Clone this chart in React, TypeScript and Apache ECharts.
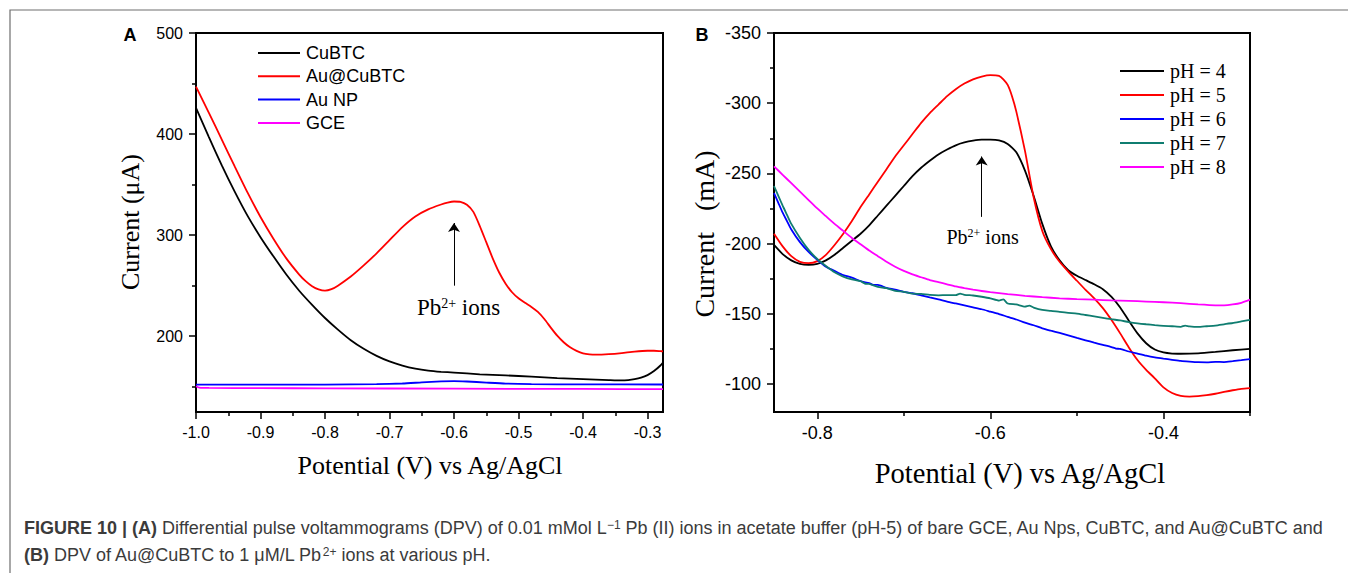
import React, { useEffect, useRef } from "react";
import * as echarts from "echarts";

// ---------- Panel A data (Potential V, Current µA) ----------
const cubtcA: [number, number][] = [
  [-1.0, 426], [-0.98, 397], [-0.96, 369], [-0.94, 343], [-0.92, 319], [-0.9, 298],
  [-0.88, 279], [-0.86, 261], [-0.84, 245], [-0.82, 231], [-0.8, 218], [-0.78, 206.5],
  [-0.76, 196], [-0.74, 187.5], [-0.72, 180.5], [-0.7, 175], [-0.68, 171], [-0.66, 168],
  [-0.64, 166], [-0.62, 164.8], [-0.6, 164], [-0.56, 162.3], [-0.52, 161.2], [-0.48, 160],
  [-0.44, 158.6], [-0.4, 157.6], [-0.36, 156.6], [-0.34, 156.2], [-0.33, 156.6], [-0.32, 157.5],
  [-0.31, 159], [-0.3, 161.5], [-0.29, 165.5], [-0.28, 171], [-0.276, 174],
];
const auCubtcA: [number, number][] = [
  [-1.0, 447], [-0.98, 421], [-0.96, 394.5], [-0.94, 368], [-0.92, 342], [-0.9, 318],
  [-0.88, 296.5], [-0.86, 277], [-0.84, 261], [-0.83, 254.5], [-0.82, 249.5], [-0.81, 246.3],
  [-0.8, 245], [-0.79, 246.5], [-0.78, 250], [-0.76, 259], [-0.74, 270], [-0.72, 282],
  [-0.7, 295], [-0.68, 308], [-0.66, 318.5], [-0.64, 325.5], [-0.62, 330.3], [-0.61, 332.2],
  [-0.6, 333.3], [-0.59, 333], [-0.58, 330], [-0.57, 323], [-0.56, 309], [-0.55, 293],
  [-0.54, 277], [-0.53, 263], [-0.52, 252], [-0.51, 243.5], [-0.5, 237.5], [-0.49, 233],
  [-0.48, 229], [-0.47, 224], [-0.46, 217], [-0.45, 208.5], [-0.44, 200.5], [-0.43, 194],
  [-0.42, 189], [-0.41, 185.5], [-0.4, 183], [-0.39, 182], [-0.38, 181.7], [-0.36, 182.2],
  [-0.34, 183.3], [-0.32, 184.8], [-0.3, 185.6], [-0.29, 185.6], [-0.28, 185.2], [-0.276, 185],
];
const auNpA: [number, number][] = [
  [-1.0, 152], [-0.9, 152], [-0.8, 152.1], [-0.72, 152.5], [-0.68, 153.2], [-0.65, 154.3],
  [-0.62, 155.3], [-0.6, 155.6], [-0.58, 155.2], [-0.55, 154.1], [-0.52, 153.1], [-0.48, 152.6],
  [-0.4, 152.3], [-0.276, 152.2],
];
const gceA: [number, number][] = [
  [-1.0, 150.5], [-0.995, 149.2], [-0.98, 148.8], [-0.9, 148.6], [-0.8, 148.4],
  [-0.6, 148.1], [-0.4, 147.8], [-0.276, 147.6],
];

// ---------- Panel B data (Potential V, Current) ----------
const ph4B: [number, number][] = [
  [-0.85, -199], [-0.84, -192.5], [-0.83, -188], [-0.82, -185.5], [-0.81, -184.8], [-0.8, -185.5],
  [-0.79, -188], [-0.78, -192], [-0.77, -197], [-0.76, -202], [-0.75, -207], [-0.74, -213],
  [-0.73, -220], [-0.72, -227], [-0.71, -234], [-0.7, -241], [-0.69, -248], [-0.68, -254],
  [-0.67, -259], [-0.66, -263.5], [-0.65, -267], [-0.64, -270], [-0.63, -272], [-0.62, -273.3],
  [-0.61, -274], [-0.6, -274], [-0.59, -273.5], [-0.58, -271], [-0.57, -265], [-0.56, -252],
  [-0.55, -234], [-0.54, -214], [-0.53, -198], [-0.52, -188], [-0.51, -181], [-0.5, -177],
  [-0.49, -174], [-0.48, -171], [-0.47, -167.5], [-0.46, -162], [-0.45, -154.5], [-0.44, -145],
  [-0.43, -136], [-0.42, -129], [-0.41, -124.5], [-0.4, -122.4], [-0.39, -121.6], [-0.38, -121.5],
  [-0.36, -121.8], [-0.34, -122.8], [-0.32, -124], [-0.3, -125],
];
const ph5B: [number, number][] = [
  [-0.85, -207], [-0.84, -198], [-0.83, -191], [-0.82, -187], [-0.81, -186], [-0.8, -187.5],
  [-0.79, -192], [-0.78, -199], [-0.77, -207], [-0.76, -216], [-0.75, -226], [-0.74, -235],
  [-0.73, -244], [-0.72, -253], [-0.71, -262], [-0.7, -270], [-0.69, -278], [-0.68, -286],
  [-0.67, -293], [-0.66, -299], [-0.65, -305], [-0.64, -310], [-0.63, -314], [-0.62, -317],
  [-0.61, -319], [-0.6, -320], [-0.59, -319.5], [-0.585, -317], [-0.58, -313], [-0.575, -305],
  [-0.57, -294], [-0.56, -266], [-0.55, -233], [-0.54, -209], [-0.53, -196], [-0.52, -187],
  [-0.51, -180], [-0.5, -173.5], [-0.49, -167], [-0.48, -161], [-0.47, -154], [-0.46, -145.5],
  [-0.45, -136], [-0.44, -126], [-0.43, -117], [-0.42, -110], [-0.41, -104], [-0.4, -97.5],
  [-0.39, -93.5], [-0.38, -91.5], [-0.37, -91], [-0.36, -91.3], [-0.35, -92], [-0.34, -93],
  [-0.33, -94.3], [-0.32, -95.5], [-0.31, -96.5], [-0.3, -97],
];
const ph6B: [number, number][] = [
  [-0.85, -236], [-0.845, -229], [-0.84, -222], [-0.835, -216], [-0.83, -210], [-0.82, -201],
  [-0.81, -194], [-0.8, -188.5], [-0.79, -183.5], [-0.78, -180.5], [-0.77, -177.5], [-0.76, -175.8],
  [-0.75, -173.2], [-0.74, -171.8], [-0.735, -170.5], [-0.73, -170.6], [-0.72, -168.4], [-0.71, -167.2],
  [-0.7, -165.6], [-0.69, -164.6], [-0.68, -163.1], [-0.67, -161.6], [-0.66, -160.2], [-0.65, -158.6],
  [-0.64, -157.3], [-0.63, -156], [-0.62, -154.6], [-0.61, -153.2], [-0.6, -151.5], [-0.59, -149.8],
  [-0.58, -147.8], [-0.57, -145.9], [-0.56, -143.6], [-0.55, -141.8], [-0.54, -139.6], [-0.53, -137.9],
  [-0.52, -136.3], [-0.51, -134.6], [-0.5, -132.8], [-0.49, -131.1], [-0.48, -129.4], [-0.47, -127.8],
  [-0.46, -126.2], [-0.455, -125.2], [-0.45, -124.9], [-0.44, -123.1], [-0.43, -121.6], [-0.42, -120.1],
  [-0.41, -118.9], [-0.4, -118], [-0.39, -117.2], [-0.38, -116.4], [-0.37, -115.9], [-0.36, -115.5],
  [-0.35, -115.4], [-0.34, -115.7], [-0.33, -115.6], [-0.32, -116.2], [-0.31, -116.9], [-0.3, -117.7],
];
const ph7B: [number, number][] = [
  [-0.85, -241], [-0.845, -234], [-0.84, -227], [-0.835, -220.5], [-0.83, -214], [-0.82, -204],
  [-0.81, -195.5], [-0.8, -189], [-0.79, -184], [-0.78, -179.5], [-0.77, -176.5], [-0.76, -174.5],
  [-0.75, -173.2], [-0.745, -171.5], [-0.74, -171.2], [-0.73, -169.2], [-0.72, -168.2], [-0.71, -166.3],
  [-0.7, -165.6], [-0.69, -164.3], [-0.68, -164.1], [-0.67, -163.4], [-0.66, -163.1], [-0.65, -163.3],
  [-0.64, -163.2], [-0.635, -164.4], [-0.63, -163.5], [-0.62, -163], [-0.61, -162.1], [-0.6, -161],
  [-0.59, -159.4], [-0.585, -160.2], [-0.58, -157.3], [-0.57, -156.6], [-0.56, -155.1], [-0.555, -155.8],
  [-0.55, -154.4], [-0.54, -152.7], [-0.53, -152.1], [-0.52, -151.3], [-0.51, -150.6], [-0.5, -150.1],
  [-0.49, -149.1], [-0.48, -148.1], [-0.47, -147.1], [-0.46, -146.1], [-0.45, -145.2], [-0.44, -144.1],
  [-0.43, -143.2], [-0.42, -142.5], [-0.41, -141.9], [-0.4, -141.4], [-0.39, -141.1], [-0.38, -140.7],
  [-0.375, -141.6], [-0.37, -141], [-0.36, -140.6], [-0.35, -141.1], [-0.34, -141.6], [-0.33, -142.5],
  [-0.32, -143.4], [-0.31, -144.5], [-0.3, -145.6],
];
const ph8B: [number, number][] = [
  [-0.85, -255], [-0.84, -249], [-0.83, -243], [-0.82, -237], [-0.81, -231], [-0.8, -225],
  [-0.79, -219.5], [-0.78, -214], [-0.77, -209], [-0.76, -204], [-0.75, -199.5], [-0.74, -195],
  [-0.73, -191], [-0.72, -187], [-0.71, -183.5], [-0.7, -180.5], [-0.69, -178], [-0.68, -176],
  [-0.67, -174], [-0.66, -172.5], [-0.65, -171], [-0.64, -169.5], [-0.63, -168.3], [-0.62, -167.2],
  [-0.61, -166.2], [-0.6, -165.4], [-0.58, -164], [-0.56, -162.8], [-0.54, -161.8], [-0.52, -161],
  [-0.5, -160.4], [-0.48, -160], [-0.46, -159.5], [-0.44, -159.2], [-0.42, -158.7], [-0.4, -158.2],
  [-0.38, -157.5], [-0.36, -156.6], [-0.34, -156], [-0.33, -156], [-0.32, -156.6], [-0.31, -157.8],
  [-0.3, -160],
];

// ---------- Axis ticks / labels ----------
const aXMajor = [-1.0, -0.9, -0.8, -0.7, -0.6, -0.5, -0.4, -0.3];
const aXMinor = [-0.95, -0.85, -0.75, -0.65, -0.55, -0.45, -0.35];
const aYMajor = [200, 300, 400, 500];
const aYMinor = [150, 250, 350, 450];
const bXMajor = [-0.8, -0.6, -0.4];
const bXMinor = [-0.7, -0.5, -0.3];
const bYMajor = [-350, -300, -250, -200, -150, -100];
const bYMinor = [-325, -275, -225, -175, -125];

const namesA = ["CuBTC", "Au@CuBTC", "Au NP", "GCE"];
const namesB = ["pH = 4", "pH = 5", "pH = 6", "pH = 7", "pH = 8"];

const SANS = "Liberation Sans, Arial, sans-serif";
const SERIF = "Liberation Serif, Times New Roman, serif";

function majorAxis(kind: "x" | "y", grid: number, min: number, max: number, vals: number[], fmt: (v: number) => string, fs: number, inverse = false) {
  return {
    type: "value",
    gridIndex: grid,
    min,
    max,
    inverse,
    position: kind === "x" ? "bottom" : "left",
    axisLine: { show: true, onZero: false, lineStyle: { color: "#000", width: 2 } },
    axisTick: { show: true, length: 7, customValues: vals, lineStyle: { color: "#000", width: 1.5 } },
    axisLabel: {
      show: true, customValues: vals, formatter: fmt, fontSize: fs, color: "#000",
      fontFamily: SANS, margin: kind === "x" ? 12 : 13, hideOverlap: false,
    },
    splitLine: { show: false },
  };
}
function minorAxis(kind: "x" | "y", grid: number, min: number, max: number, vals: number[], inverse = false) {
  return {
    type: "value",
    gridIndex: grid,
    min,
    max,
    inverse,
    position: kind === "x" ? "bottom" : "left",
    axisLine: { show: false, onZero: false },
    axisTick: { show: true, length: 4, customValues: vals, lineStyle: { color: "#000", width: 1.5 } },
    axisLabel: { show: false },
    splitLine: { show: false },
  };
}

function lineSeries(name: string, data: [number, number][], color: string, axis: number, extra: any = {}) {
  return {
    name,
    type: "line",
    xAxisIndex: axis,
    yAxisIndex: axis,
    data,
    color,
    showSymbol: false,
    symbol: "none",
    smooth: 0.2,
    lineStyle: { color, width: 1.8 },
    silent: true,
    ...extra,
  };
}

function pbLabel(fs: number, ss: number) {
  return {
    show: true,
    position: "inside",
    color: "#000",
    formatter: "{a|Pb}{s|2+}{a| ions}",
    rich: {
      a: { fontFamily: SERIF, fontSize: fs, color: "#000" },
      s: { fontFamily: SERIF, fontSize: ss, color: "#000", verticalAlign: "top" },
    },
  };
}

export default function App() {
  const ref = useRef<HTMLDivElement>(null);
  useEffect(() => {
    if (!ref.current) return;
    const chart = echarts.init(ref.current, null, { renderer: "svg" });
    const fmt1 = (v: number) => v.toFixed(1);
    const fmt0 = (v: number) => String(Math.round(v));
    const capRich = {
      n: { fontFamily: SANS, fontSize: 18, fill: "#3b3b3b" },
      b: { fontFamily: SANS, fontSize: 18, fill: "#3b3b3b", fontWeight: "bold" },
      sup: { fontFamily: SANS, fontSize: 12, fill: "#3b3b3b", verticalAlign: "top" },
    };
    const option: any = {
      animation: false,
      backgroundColor: "#fff",
      textStyle: { fontFamily: SANS },
      grid: [
        { left: 196, top: 33, width: 467, height: 379, show: true, borderColor: "#000", borderWidth: 2, containLabel: false },
        { left: 774, top: 33, width: 476, height: 379, show: true, borderColor: "#000", borderWidth: 2, containLabel: false },
      ],
      xAxis: [
        majorAxis("x", 0, -1.0, -0.276, aXMajor, fmt1, 16),
        minorAxis("x", 0, -1.0, -0.276, aXMinor),
        majorAxis("x", 1, -0.85, -0.3, bXMajor, fmt1, 18),
        minorAxis("x", 1, -0.85, -0.3, bXMinor),
      ],
      yAxis: [
        majorAxis("y", 0, 125, 500, aYMajor, fmt0, 16),
        minorAxis("y", 0, 125, 500, aYMinor),
        majorAxis("y", 1, -350, -80, bYMajor, fmt0, 18, true),
        minorAxis("y", 1, -350, -80, bYMinor, true),
      ],
      legend: [
        {
          data: namesA, left: 253, top: 39, orient: "vertical", icon: "rect",
          itemWidth: 42, itemHeight: 2, itemGap: 5.3, selectedMode: false,
          textStyle: { fontFamily: SANS, fontSize: 18, color: "#000", padding: [0, 0, 0, 1] },
        },
        {
          data: namesB, left: 1115, top: 56, orient: "vertical", icon: "rect",
          itemWidth: 44, itemHeight: 2, itemGap: 4, selectedMode: false,
          textStyle: { fontFamily: SERIF, fontSize: 20, color: "#000", padding: [0, 0, 0, 1] },
        },
      ],
      series: [
        lineSeries(namesA[0], cubtcA, "#000000", 0),
        lineSeries(namesA[1], auCubtcA, "#ff0000", 0, {
          markLine: {
            silent: true, symbol: ["none", "arrow"], symbolSize: 9, animation: false,
            lineStyle: { color: "#000", width: 1, type: "solid" }, label: { show: false },
            data: [[{ coord: [-0.6, 250] }, { coord: [-0.6, 312] }]],
          },
          markPoint: {
            silent: true, symbol: "rect", symbolSize: 1, itemStyle: { color: "rgba(0,0,0,0)" },
            label: pbLabel(23, 14),
            data: [{ coord: [-0.593, 228] }],
          },
        }),
        lineSeries(namesA[2], auNpA, "#0000ff", 0),
        lineSeries(namesA[3], gceA, "#ff00ff", 0),
        lineSeries(namesB[0], ph4B, "#000000", 2),
        lineSeries(namesB[1], ph5B, "#ff0000", 2, {
          markLine: {
            silent: true, symbol: ["none", "arrow"], symbolSize: 9, animation: false,
            lineStyle: { color: "#000", width: 1, type: "solid" }, label: { show: false },
            data: [[{ coord: [-0.61, -219] }, { coord: [-0.61, -262] }]],
          },
          markPoint: {
            silent: true, symbol: "rect", symbolSize: 1, itemStyle: { color: "rgba(0,0,0,0)" },
            label: pbLabel(20, 12),
            data: [{ coord: [-0.609, -205] }],
          },
        }),
        lineSeries(namesB[2], ph6B, "#0000ff", 2),
        lineSeries(namesB[3], ph7B, "#0f7d70", 2),
        lineSeries(namesB[4], ph8B, "#ff00ff", 2),
      ],
      graphic: [
        { type: "rect", silent: true, shape: { x: 10, y: 10, width: 1400, height: 700 }, style: { fill: "none", stroke: "#6e6e6e", lineWidth: 1.2 }, z: -1 },
        { type: "text", x: 130, y: 35, style: { text: "A", fontFamily: SANS, fontSize: 18, fontWeight: "bold", fill: "#000", align: "center", verticalAlign: "middle" } },
        { type: "text", x: 702, y: 35, style: { text: "B", fontFamily: SANS, fontSize: 18, fontWeight: "bold", fill: "#000", align: "center", verticalAlign: "middle" } },
        { type: "text", x: 130, y: 222, rotation: Math.PI / 2, style: { text: "Current (\u03bcA)", fontFamily: SERIF, fontSize: 26, fill: "#000", align: "center", verticalAlign: "middle" } },
        { type: "text", x: 430, y: 465, style: { text: "Potential (V) vs Ag/AgCl", fontFamily: SERIF, fontSize: 26, fill: "#000", align: "center", verticalAlign: "middle" } },
        { type: "text", x: 704, y: 234, rotation: Math.PI / 2, style: { text: "Current   (mA)", fontFamily: SERIF, fontSize: 28, fill: "#000", align: "center", verticalAlign: "middle" } },
        { type: "text", x: 1020, y: 473, style: { text: "Potential (V) vs Ag/AgCl", fontFamily: SERIF, fontSize: 28.5, fill: "#000", align: "center", verticalAlign: "middle" } },
        {
          type: "text", x: 24, y: 528,
          style: {
            text: "{b|FIGURE 10 | (A)}{n| Differential pulse voltammograms (DPV) of 0.01 mMol L}{sup|\u22121}{n| Pb (II) ions in acetate buffer (pH-5) of bare GCE, Au Nps, CuBTC, and Au@CuBTC and}",
            rich: capRich, fontFamily: SANS, fontSize: 18, fill: "#3b3b3b", align: "left", verticalAlign: "middle",
          },
        },
        {
          type: "text", x: 24, y: 555,
          style: {
            text: "{b|(B)}{n| DPV of Au@CuBTC to 1 \u03bcM/L Pb}{sup|2+}{n| ions at various pH.}",
            rich: capRich, fontFamily: SANS, fontSize: 18, fill: "#3b3b3b", align: "left", verticalAlign: "middle",
          },
        },
      ],
    };
    chart.setOption(option);
    return () => chart.dispose();
  }, []);
  return (
    <div
      ref={ref}
      style={{ position: "absolute", left: 0, top: 0, width: 1348, height: 573, background: "#fff" }}
    />
  );
}
